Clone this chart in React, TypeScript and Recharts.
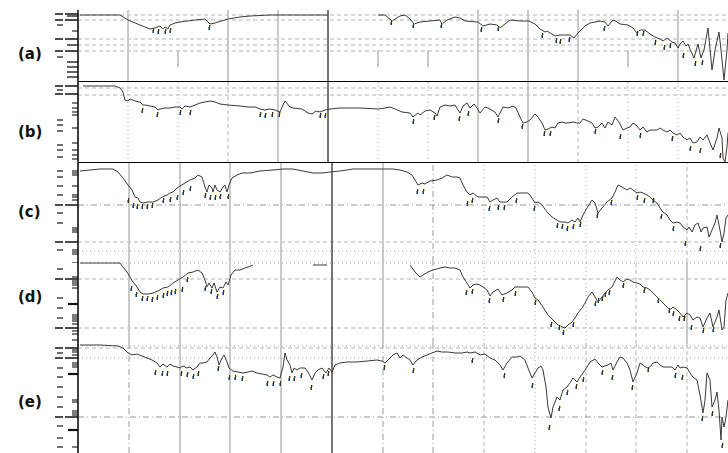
import React from 'react';
import { ComposedChart, Line, XAxis, YAxis, ReferenceLine } from 'recharts';

// x: position along the sweep (0..650), y: level below the panel top (bigger = lower)
type Pt = [number, number | null];

const traceA: Pt[] = [
  [2, 5], [42, 5], [50, 10], [62, 15], [72, 19], [77, 18], [82, 16], [85, 19], [87, 17], [90, 19],
  [92, 15], [97, 13], [102, 12], [117, 10], [127, 9], [132, 14], [137, 13], [150, 9], [162, 7], [172, 6],
  [192, 5], [222, 5], [250, 5], [272, null], [300, 5], [307, 5], [314, 11], [322, 6], [327, 5], [332, 9],
  [336, 14], [342, 12], [352, 11], [362, 10], [364, 14], [369, 10], [377, 7], [382, 8], [387, 11], [400, 12],
  [405, 16], [412, 14], [419, 15], [422, 18], [432, 10], [442, 11], [451, 11], [457, 14], [462, 19], [467, 22],
  [469, 21], [477, 26], [482, 25], [487, 25], [492, 25], [496, 28], [500, 23], [507, 16], [512, 13], [522, 11],
  [527, 12], [530, 16], [534, 11], [536, 10], [542, 14], [550, 15], [555, 18], [559, 23], [562, 20], [567, 20],
  [572, 24], [577, 27], [582, 29], [585, 31], [589, 28], [594, 32], [597, 33], [600, 38], [602, 34], [605, 31],
  [608, 36], [610, 34], [612, 39], [616, 48], [620, 34], [623, 48], [626, 40], [630, 18], [634, 60], [637, 40],
  [641, 22], [643, 40], [646, 70], [649, 40], [650, 23],
];
const marksA: Pt[] = [
  [75, 20], [80, 21], [87, 21], [92, 20], [131, 17], [313, 12], [335, 15], [363, 15], [403, 19], [420, 18],
  [464, 25], [478, 30], [482, 31], [491, 29], [526, 18], [559, 23], [565, 23], [577, 32], [586, 37], [592, 35],
  [605, 45], [617, 53], [624, 52],
];

const traceB: Pt[] = [
  [5, 4], [22, 4], [37, 4], [42, 6], [45, 10], [47, 18], [50, 19], [52, 17], [57, 19], [62, 20],
  [65, 23], [67, 23], [72, 24], [77, 25], [80, 28], [82, 27], [87, 26], [92, 26], [97, 25], [102, 25],
  [104, 27], [107, 24], [112, 25], [117, 23], [122, 21], [132, 19], [137, 20], [142, 22], [150, 23], [162, 24],
  [170, 25], [177, 25], [182, 27], [187, 28], [192, 27], [197, 28], [202, 30], [205, 23], [207, 19], [212, 25],
  [215, 26], [224, 27], [230, 31], [234, 32], [238, 29], [242, 30], [247, 28], [252, 27], [262, 26], [282, 26],
  [300, 27], [307, 26], [312, 25], [317, 27], [324, 30], [332, 31], [335, 35], [340, 31], [342, 33], [347, 29],
  [352, 28], [357, 31], [359, 34], [362, 25], [367, 23], [372, 24], [377, 23], [380, 28], [382, 31], [385, 24],
  [389, 21], [392, 26], [396, 22], [399, 26], [402, 31], [407, 25], [410, 26], [417, 30], [420, 35], [425, 25],
  [430, 26], [435, 24], [438, 26], [442, 35], [445, 41], [449, 40], [452, 38], [457, 32], [460, 35], [464, 41],
  [467, 48], [470, 47], [474, 45], [477, 46], [480, 41], [484, 40], [487, 41], [490, 41], [495, 40], [499, 41],
  [502, 41], [505, 37], [510, 39], [514, 41], [517, 46], [520, 45], [524, 41], [527, 46], [530, 40], [534, 43],
  [537, 35], [541, 40], [545, 48], [549, 46], [552, 45], [555, 41], [559, 44], [562, 48], [565, 45], [569, 50],
  [572, 48], [575, 48], [579, 48], [582, 46], [585, 48], [589, 50], [592, 48], [595, 51], [599, 53], [602, 51],
  [605, 55], [609, 58], [612, 56], [615, 61], [619, 60], [622, 55], [625, 58], [629, 53], [632, 61], [635, 68],
  [639, 56], [641, 46], [644, 56], [645, 76], [647, 80], [649, 65], [650, 51],
];
const marksB: Pt[] = [
  [64, 28], [79, 32], [102, 30], [112, 30], [182, 32], [187, 33], [194, 32], [201, 32], [242, 33], [247, 33],
  [335, 39], [356, 35], [381, 36], [390, 31], [420, 38], [444, 44], [466, 51], [472, 51], [517, 49], [542, 54],
  [562, 53], [594, 56], [612, 66], [622, 68], [642, 73],
];

const traceC: Pt[] = [
  [2, 8], [12, 7], [22, 6], [35, 6], [40, 9], [45, 15], [50, 22], [54, 27], [57, 34], [60, 35],
  [62, 39], [65, 40], [70, 39], [75, 39], [80, 37], [84, 34], [89, 32], [92, 30], [95, 29], [99, 25],
  [102, 23], [107, 20], [112, 17], [117, 15], [120, 12], [124, 14], [127, 24], [129, 29], [131, 22], [134, 25],
  [135, 29], [137, 22], [139, 27], [142, 29], [145, 24], [147, 22], [149, 29], [151, 22], [154, 15], [159, 12],
  [164, 10], [172, 10], [182, 8], [195, 7], [205, 6], [215, 6], [225, 8], [235, 10], [244, 10], [252, 9],
  [262, 8], [275, 6], [295, 6], [315, 6], [322, 7], [329, 9], [334, 12], [337, 17], [340, 22], [344, 20],
  [347, 21], [352, 18], [359, 17], [364, 15], [369, 12], [374, 14], [379, 14], [382, 15], [385, 22], [389, 29],
  [392, 32], [395, 30], [400, 34], [405, 34], [409, 34], [412, 39], [415, 37], [419, 35], [422, 39], [425, 39],
  [429, 39], [434, 34], [439, 30], [445, 30], [450, 30], [454, 35], [457, 40], [460, 39], [464, 42], [469, 49],
  [474, 54], [479, 57], [482, 59], [487, 59], [490, 60], [494, 57], [497, 59], [500, 55], [502, 59], [505, 52],
  [509, 45], [514, 37], [517, 40], [520, 50], [524, 45], [529, 39], [534, 35], [537, 29], [540, 22], [544, 24],
  [549, 27], [552, 25], [555, 27], [559, 30], [562, 29], [565, 30], [569, 32], [572, 34], [575, 37], [579, 40],
  [582, 45], [585, 49], [589, 52], [592, 57], [595, 60], [599, 59], [602, 60], [605, 64], [609, 67], [611, 64],
  [614, 69], [617, 62], [620, 60], [623, 69], [625, 65], [629, 64], [631, 74], [634, 67], [637, 60], [639, 52],
  [642, 67], [644, 79], [646, 70], [648, 55], [650, 52],
];
const marksC: Pt[] = [
  [50, 37], [55, 42], [59, 43], [64, 43], [69, 43], [74, 42], [85, 37], [92, 36], [99, 34], [105, 29],
  [112, 25], [127, 32], [132, 34], [137, 34], [142, 33], [150, 33], [339, 28], [345, 28], [389, 40], [394, 37],
  [411, 45], [420, 44], [426, 44], [438, 37], [456, 45], [479, 62], [484, 63], [489, 65], [495, 63], [502, 61],
  [519, 52], [533, 39], [559, 34], [566, 37], [575, 37], [583, 53], [595, 65], [607, 80], [622, 85], [642, 82],
];

const traceD: Pt[] = [
  [2, 1], [22, 1], [42, 1], [45, 5], [49, 10], [52, 15], [55, 20], [59, 25], [62, 30], [65, 32],
  [70, 32], [75, 31], [80, 29], [85, 26], [90, 25], [95, 21], [100, 18], [105, 15], [110, 11], [115, 10],
  [120, 8], [124, 11], [127, 18], [129, 25], [131, 21], [134, 26], [136, 21], [139, 30], [142, 25], [145, 26],
  [148, 20], [150, 23], [153, 13], [157, 8], [162, 8], [167, 6], [170, 5], [175, 3], [180, null], [235, 3],
  [249, 3], [260, null], [332, 3], [337, 10], [342, 15], [345, 13], [350, 10], [355, 8], [362, 6], [367, 5],
  [372, 6], [377, 6], [382, 8], [385, 15], [389, 21], [392, 26], [395, 23], [399, 22], [402, 23], [405, 25],
  [409, 28], [412, 34], [415, 30], [420, 27], [424, 33], [429, 31], [434, 28], [437, 25], [442, 25], [447, 25],
  [450, 25], [454, 30], [457, 36], [460, 38], [465, 45], [470, 53], [474, 57], [477, 60], [480, 63], [484, 65],
  [487, 66], [490, 63], [494, 60], [497, 56], [500, 51], [504, 46], [507, 41], [510, 35], [514, 30], [517, 35],
  [520, 40], [524, 35], [527, 31], [530, 28], [534, 25], [539, 15], [542, 18], [545, 20], [549, 17], [552, 18],
  [555, 20], [559, 21], [562, 22], [565, 25], [569, 26], [572, 28], [575, 31], [579, 35], [582, 38], [585, 41],
  [589, 45], [592, 48], [595, 45], [599, 48], [602, 51], [605, 55], [609, 51], [612, 53], [615, 58], [619, 55],
  [622, 56], [625, 65], [629, 56], [632, 51], [635, 65], [639, 55], [641, 48], [644, 68], [646, 65], [648, 38],
  [650, 31],
];
const marksD: Pt[] = [
  [53, 26], [58, 32], [64, 36], [69, 36], [74, 37], [79, 35], [85, 33], [89, 31], [93, 30], [97, 29],
  [104, 27], [109, 17], [127, 26], [133, 29], [139, 34], [145, 30], [388, 30], [394, 29], [411, 38], [425, 37],
  [437, 31], [457, 40], [473, 62], [481, 65], [485, 70], [495, 62], [517, 41], [520, 38], [524, 36], [527, 32],
  [531, 30], [545, 23], [566, 28], [580, 38], [591, 48], [595, 51], [601, 56], [606, 56], [613, 65], [625, 68],
  [635, 67],
];

const traceE: Pt[] = [
  [2, 1], [22, 1], [40, 2], [45, 4], [50, 9], [54, 11], [59, 10], [64, 12], [69, 14], [74, 16],
  [79, 19], [82, 23], [85, 20], [89, 23], [92, 20], [95, 22], [99, 23], [102, 24], [105, 22], [109, 24],
  [112, 23], [115, 26], [119, 23], [122, 19], [125, 19], [129, 18], [132, 14], [135, 11], [137, 8], [139, 13],
  [141, 21], [144, 14], [146, 11], [149, 18], [151, 24], [155, 27], [160, 28], [165, 29], [170, 28], [174, 27],
  [179, 29], [184, 30], [189, 31], [192, 33], [195, 31], [199, 33], [202, 34], [205, 23], [207, 9], [209, 16],
  [212, 21], [214, 29], [216, 24], [219, 26], [222, 24], [227, 24], [230, 28], [234, 36], [237, 29], [240, 26],
  [244, 24], [248, 29], [251, 24], [254, 28], [257, 21], [262, 19], [269, 18], [279, 18], [289, 17], [299, 16],
  [304, 17], [307, 19], [310, 16], [315, 11], [319, 9], [322, 14], [325, 11], [329, 14], [332, 16], [335, 21],
  [339, 16], [344, 13], [349, 11], [354, 9], [359, 7], [364, 8], [370, 8], [377, 9], [384, 9], [389, 8],
  [392, 9], [397, 8], [402, 11], [407, 10], [412, 14], [417, 16], [422, 21], [425, 26], [429, 19], [434, 13],
  [439, 13], [442, 12], [447, 16], [450, 24], [454, 34], [457, 29], [460, 24], [463, 22], [465, 26], [468, 43],
  [470, 63], [473, 74], [475, 63], [479, 53], [482, 56], [485, 46], [489, 43], [492, 39], [495, 34], [499, 38],
  [502, 33], [505, 29], [509, 23], [512, 18], [517, 15], [520, 19], [524, 23], [527, 22], [530, 21], [533, 19],
  [535, 26], [539, 18], [542, 13], [545, 14], [549, 19], [552, 26], [555, 38], [559, 29], [562, 19], [565, 21],
  [569, 24], [572, 23], [575, 19], [579, 18], [582, 21], [585, 23], [589, 23], [594, 23], [597, 26], [600, 21],
  [602, 24], [605, 23], [609, 24], [612, 29], [615, 33], [619, 36], [622, 51], [625, 69], [627, 56], [629, 29],
  [632, 36], [634, 63], [637, 56], [639, 48], [641, 66], [643, 96], [644, 73], [646, 83], [648, 73], [650, 56],
];
const marksE: Pt[] = [
  [77, 28], [84, 29], [89, 29], [103, 29], [109, 30], [115, 32], [120, 29], [140, 24], [151, 33], [157, 33],
  [164, 34], [189, 39], [195, 39], [202, 39], [211, 34], [216, 34], [223, 31], [233, 43], [245, 32], [250, 29],
  [306, 23], [335, 26], [394, 16], [426, 31], [454, 41], [471, 83], [481, 64], [489, 48], [498, 42], [505, 35],
  [524, 28], [534, 33], [554, 43], [570, 25], [597, 31], [604, 33], [624, 74], [634, 69], [644, 101],
];

// vertical grid positions
const gridXab = [50, 100, 150, 200, 250, 300, 350, 400, 450, 500, 550, 600];
const gridXcde = [51, 102, 152, 203, 254, 305, 355, 406, 457, 508, 558, 609];

// y-axis tick marks: [level, kind]
const ticksA: [number, string][] = [
  [4, 'L'], [6, 'M'], [10, 'L'], [15, 'D'], [21, 'S'], [29, 'L'], [35, 'M'], [41, 'L'], [47, 'D'], [52, 'M'],
  [57, 'M'], [62, 'M'], [67, 'M'],
];
const ticksB: [number, string][] = [
  [4, 'L'], [8, 'D'], [12, 'L'], [21, 'S'], [26, 'S'], [30, 'S'], [33, 'S'], [38, 'D'], [43, 'D'], [46, 'S'],
  [49, 'D'], [61, 'S'], [63, 'D'], [68, 'B'], [73, 'S'], [75, 'D'], [77, 'S'],
];
const ticksC: [number, string][] = [
  [8, 'B'], [10, 'S'], [12, 'S'], [14, 'D'], [23, 'B'], [32, 'B'], [34, 'S'], [37, 'S'], [42, 'L'], [50, 'D'],
  [60, 'D'], [65, 'S'], [67, 'S'], [69, 'S'], [79, 'L'], [87, 'B'], [89, 'S'], [91, 'S'],
];
const ticksD: [number, string][] = [
  [0, 'S'], [7, 'D'], [15, 'S'], [17, 'L'], [19, 'S'], [21, 'S'], [23, 'S'], [26, 'S'], [36, 'D'], [42, 'T'],
  [46, 'D'], [53, 'S'], [55, 'S'], [56, 'D'], [57, 'S'], [59, 'S'], [62, 'S'], [66, 'L'], [69, 'S'], [72, 'S'],
  [78, 'S'],
];
const ticksE: [number, string][] = [
  [4, 'L'], [6, 'S'], [8, 'S'], [9, 'D'], [11, 'S'], [14, 'L'], [19, 'S'], [21, 'S'], [23, 'S'], [24, 'D'],
  [30, 'T'], [33, 'D'], [43, 'D'], [53, 'D'], [56, 'S'], [58, 'S'], [63, 'D'], [67, 'S'], [69, 'S'], [71, 'S'],
  [73, 'L'], [82, 'D'], [86, 'T'], [94, 'D'], [103, 'B'],
];

const lineStyles: Record<string, any> = {
  G: { stroke: '#c9c9c9', strokeWidth: 2 },
  K: { stroke: '#4a4a4a', strokeWidth: 1.5 },
  o: { stroke: '#a8a8a8', strokeWidth: 1, strokeDasharray: '1 3' },
  d: { stroke: '#b4b4b4', strokeWidth: 1, strokeDasharray: '4 3' },
  x: { stroke: '#9a9a9a', strokeWidth: 1, strokeDasharray: '6 3 1 3' },
  S: { stroke: '#c9c9c9', strokeWidth: 2 },
};

const MarkerDot = (props: any) => {
  const { cx, cy, index } = props;
  if (cx == null || cy == null) return <g key={index} />;
  return (
    <g key={index}>
      <rect x={cx - 1} y={cy} width={1} height={3} fill="#5a9ad0" />
      <rect x={cx} y={cy - 2} width={1} height={5} fill="#333" />
      <rect x={cx + 1} y={cy - 2} width={1} height={2} fill="#d8bb55" />
    </g>
  );
};

const makeTick = (ticks: [number, string][]) => {
  const kinds = new Map(ticks);
  return (props: any) => {
    const { x, y, payload } = props;
    const k = kinds.get(payload.value) || 'S';
    const ax = x;
    const parts: React.ReactNode[] = [];
    if (k === 'L') parts.push(<line key="l" x1={ax - 23} x2={ax} y1={y} y2={y} stroke="#111" strokeWidth={1.3} strokeDasharray="8 2 14" />);
    if (k === 'M') parts.push(<line key="m" x1={ax - 11} x2={ax} y1={y} y2={y} stroke="#111" strokeWidth={1.3} />);
    if (k === 'S' || k === 'B') parts.push(<line key="s" x1={ax - 6} x2={ax} y1={y} y2={y} stroke="#111" strokeWidth={1.1} />);
    if (k === 'T') parts.push(<line key="t" x1={ax - 10} x2={ax} y1={y} y2={y} stroke="#111" strokeWidth={2.2} />);
    if (k === 'D' || k === 'B') parts.push(<line key="d" x1={ax - 21} x2={ax - 15} y1={y} y2={y} stroke="#222" strokeWidth={1.3} />);
    return <g>{parts}</g>;
  };
};

const toRows = (pts: Pt[]) => pts.map(([x, y]) => ({ x, y }));

interface PanelProps {
  top: number;
  height: number;
  label: string;
  labelY: number;
  trace: Pt[];
  marks: Pt[];
  ticks: [number, string][];
  gridX: number[];
  vStyles: string[];
  hLines: [number, string][];
  shortSpan?: [number, number];
  bottomRule?: boolean;
}

const Panel: React.FC<PanelProps> = ({ top, height, label, labelY, trace, marks, ticks, gridX, vStyles, hLines, shortSpan, bottomRule }) => {
  const TickMark = makeTick(ticks);
  return (
    <div style={{ position: 'absolute', left: 0, top, width: 728, height }}>
      <div style={{ position: 'absolute', left: 18, top: labelY - 10, fontFamily: '"DejaVu Sans", sans-serif', fontWeight: 'bold', fontSize: 15, lineHeight: '18px', color: '#111' }}>{label}</div>
      <ComposedChart width={728} height={height} margin={{ top: 0, right: 0, bottom: 0, left: 0 }} style={{ position: 'absolute', left: 0, top: 0 }}>
        <XAxis dataKey="x" type="number" domain={[0, 650]} hide allowDataOverflow />
        <YAxis
          type="number"
          reversed
          domain={[0, height]}
          allowDataOverflow
          width={78}
          ticks={ticks.map(t => t[0])}
          interval={0}
          tick={TickMark}
          tickLine={false}
          tickSize={0}
          tickMargin={0}
          axisLine={{ stroke: '#000', strokeWidth: 1.5 }}
        />
        {hLines.map(([v, s], i) => <ReferenceLine key={`h${i}`} y={v} {...lineStyles[s]} />)}
        {gridX.map((v, i) => {
          const s = vStyles[i];
          if (s === 'S' && shortSpan) {
            return <ReferenceLine key={`v${i}`} segment={[{ x: v, y: shortSpan[0] }, { x: v, y: shortSpan[1] }]} {...lineStyles.S} />;
          }
          return <ReferenceLine key={`v${i}`} x={v} {...lineStyles[s]} />;
        })}
        {bottomRule && <ReferenceLine y={height} stroke="#000" strokeWidth={2} />}
        <Line data={toRows(trace)} dataKey="y" type="linear" stroke="#3a3a3a" strokeWidth={1} dot={false} activeDot={false} isAnimationActive={false} />
        <Line data={toRows(marks)} dataKey="y" stroke="none" dot={MarkerDot} activeDot={false} isAnimationActive={false} />
      </ComposedChart>
    </div>
  );
};

export default function App() {
  return (
    <div style={{ position: 'absolute', left: 0, top: 0, width: 728, height: 453, background: '#fff', overflow: 'hidden' }}>
      <Panel top={10} height={72} label="(a)" labelY={45} trace={traceA} marks={marksA} ticks={ticksA}
        gridX={gridXab} vStyles={['G', 'S', 'G', 'G', 'K', 'S', 'S', 'G', 'G', 'G', 'S', 'G']}
        hLines={[[5, 'd'], [10, 'd'], [29, 'd'], [35, 'd'], [41, 'd']]} shortSpan={[40, 57]} bottomRule />
      <Panel top={82} height={81} label="(b)" labelY={51} trace={traceB} marks={marksB} ticks={ticksB}
        gridX={gridXab} vStyles={['o', 'o', 'd', 'G', 'K', 'o', 'o', 'G', 'G', 'd', 'o', 'o']}
        hLines={[[6, 'd'], [13, 'd']]} bottomRule />
      <Panel top={163} height={99} label="(c)" labelY={50} trace={traceC} marks={marksC} ticks={ticksC}
        gridX={gridXcde} vStyles={['G', 'G', 'G', 'G', 'K', 'G', 'x', 'o', 'o', 'o', 'o', 'd']}
        hLines={[[42, 'x'], [79, 'd'], [88, 'o']]} />
      <Panel top={262} height={82} label="(d)" labelY={36} trace={traceD} marks={marksD} ticks={ticksD}
        gridX={gridXcde} vStyles={['G', 'G', 'G', 'G', 'K', 'G', 'x', 'o', 'o', 'o', 'd', 'G']}
        hLines={[[1, 'o'], [17, 'd'], [66, 'd']]} />
      <Panel top={344} height={109} label="(e)" labelY={59} trace={traceE} marks={marksE} ticks={ticksE}
        gridX={gridXcde} vStyles={['x', 'G', 'G', 'G', 'K', 'x', 'x', 'd', 'o', 'd', 'd', 'd']}
        hLines={[[2, 'o'], [4, 'd'], [14, 'o'], [73, 'x']]} />
    </div>
  );
}
